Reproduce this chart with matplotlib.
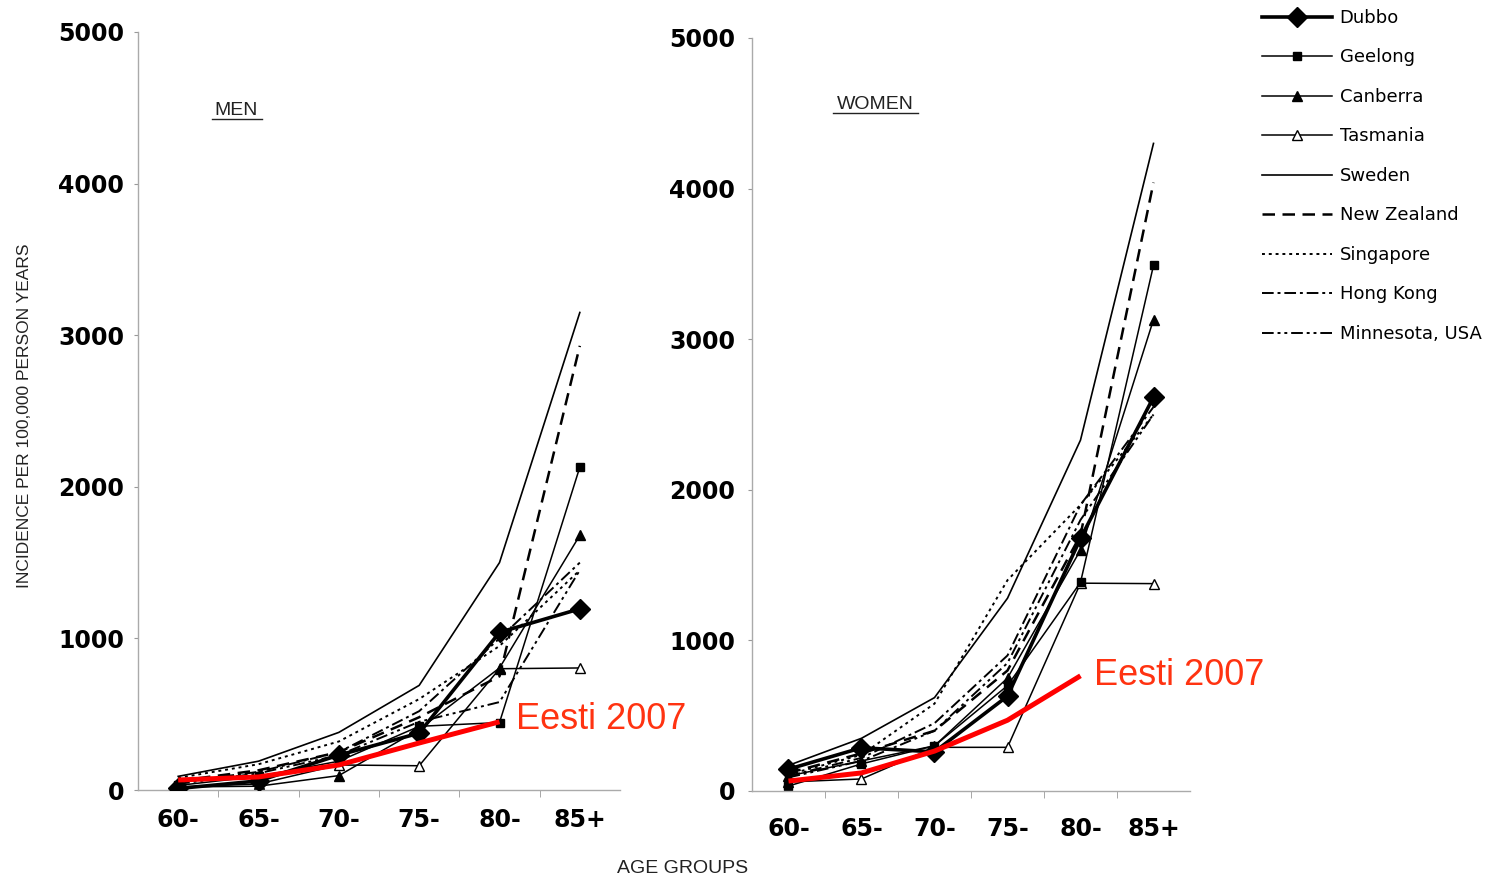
import matplotlib
matplotlib.use("Agg")
import matplotlib.pyplot as plt
from matplotlib.lines import Line2D

# ---------------- data ----------------
age_groups = ["60-", "65-", "70-", "75-", "80-", "85+"]

# MEN
dubbo_m     = [10, 60, 230, 375, 1040, 1195]
geelong_m   = [30, 90, 190, 420, 445, 2130]
canberra_m  = [20, 25, 95, 400, 805, 1680]
tasmania_m  = [20, 40, 165, 160, 800, 805]
sweden_m    = [90, 190, 380, 690, 1500, 3150]
nz_m        = [60, 130, 250, 480, 750, 2930]
singapore_m = [80, 170, 320, 600, 950, 1450]
hongkong_m  = [50, 120, 250, 520, 1000, 1500]
minnesota_m = [40, 110, 230, 450, 580, 1450]
eesti_m     = [66, 86, 165, 310, 450]

# WOMEN
dubbo_w     = [145, 287, 260, 630, 1677, 2615]
geelong_w   = [33, 180, 300, 700, 1385, 3490]
canberra_w  = [100, 200, 300, 750, 1600, 3130]
tasmania_w  = [60, 80, 290, 290, 1380, 1377]
sweden_w    = [170, 350, 620, 1280, 2330, 4300]
nz_w        = [120, 250, 400, 800, 1700, 4040]
singapore_w = [110, 240, 580, 1400, 1900, 2500]
hongkong_w  = [100, 220, 450, 900, 1900, 2550]
minnesota_w = [90, 200, 400, 850, 1800, 2500]
eesti_w     = [66, 120, 265, 470, 765]

eesti_label = "Eesti 2007"
yticks = [0, 1000, 2000, 3000, 4000, 5000]

series_names = ["Dubbo", "Geelong", "Canberra", "Tasmania", "Sweden",
                "New Zealand", "Singapore", "Hong Kong", "Minnesota, USA"]

styles = {
    "Dubbo":          dict(color="black", lw=2.6, ls="-", marker="D", ms=10),
    "Geelong":        dict(color="black", lw=1.1, ls="-", marker="s", ms=6),
    "Canberra":       dict(color="black", lw=1.1, ls="-", marker="^", ms=7),
    "Tasmania":       dict(color="black", lw=1.1, ls="-", marker="^", ms=7, mfc="white"),
    "Sweden":         dict(color="black", lw=1.2, ls="-"),
    "New Zealand":    dict(color="black", lw=1.8, ls=(0, (5, 3))),
    "Singapore":      dict(color="black", lw=1.4, ls=(0, (1.5, 2))),
    "Hong Kong":      dict(color="black", lw=1.4, ls=(0, (6, 2, 1.5, 2))),
    "Minnesota, USA": dict(color="black", lw=1.4, ls=(0, (6, 2, 1.5, 2, 1.5, 2))),
}

men = [dubbo_m, geelong_m, canberra_m, tasmania_m, sweden_m, nz_m,
       singapore_m, hongkong_m, minnesota_m]
women = [dubbo_w, geelong_w, canberra_w, tasmania_w, sweden_w, nz_w,
         singapore_w, hongkong_w, minnesota_w]

W, H = 1501, 880
fig = plt.figure(figsize=(W / 100, H / 100), dpi=100)

ax_m = fig.add_axes([138 / W, 1 - 790 / H, 482 / W, 758 / H])
ax_w = fig.add_axes([752 / W, 1 - 791 / H, 438 / W, 753 / H])

x = list(range(len(age_groups)))
red_text = "#ff3311"


def draw_panel(ax, data, eesti, title, title_xy, xpad, ypad, txt_off):
    order = [4, 5, 6, 7, 8, 3, 2, 1, 0]
    for i in order:
        name = series_names[i]
        st = dict(styles[name])
        ax.plot(x, data[i], color=st.pop("color"), lw=st.pop("lw"),
                ls=st.pop("ls"), marker=st.pop("marker", None),
                ms=st.pop("ms", 0), mfc=st.pop("mfc", "black"),
                mec="black", zorder=3 if name == "Dubbo" else 2)
    ax.plot(x[:len(eesti)], eesti, color="#ff0000", lw=3.6,
            solid_capstyle="butt", zorder=5)
    ax.annotate(eesti_label, xy=(x[len(eesti) - 1], eesti[-1]),
                xytext=txt_off, textcoords="offset points",
                ha="left", va="center", color=red_text, fontsize=26,
                family="Liberation Sans", zorder=6)
    ax.set_xlim(-0.5, len(age_groups) - 0.5)
    ax.set_ylim(0, 5000)
    ax.set_yticks(yticks)
    ax.set_yticklabels([str(v) for v in yticks], fontsize=17,
                       fontweight="bold")
    ax.set_xticks(x)
    ax.set_xticklabels(age_groups, fontsize=17, fontweight="bold")
    ax.set_xticks([i + 0.5 for i in x[:-1]], minor=True)
    ax.tick_params(axis="x", which="major", length=0, pad=xpad)
    ax.tick_params(axis="x", which="minor", length=5, color="#999999")
    ax.tick_params(axis="y", length=3, color="#999999", pad=ypad)
    for s in ["top", "right"]:
        ax.spines[s].set_visible(False)
    for s in ["left", "bottom"]:
        ax.spines[s].set_color("#aaaaaa")
        ax.spines[s].set_linewidth(1.0)
    ax.text(title_xy[0], title_xy[1], title, transform=ax.transAxes,
            ha="center", va="center", fontsize=14, family="Liberation Sans",
            color="#222222")


draw_panel(ax_m, men, eesti_m, "MEN", (0.203, 0.897), 13, 7, (12, 2))
draw_panel(ax_w, women, eesti_w, "WOMEN", (0.281, 0.912), 19, 9, (10, 0))

# underline titles
fig.add_artist(Line2D([212 / W, 262 / W], [1 - 119 / H, 1 - 119 / H],
                      color="#222222", lw=1.0))
fig.add_artist(Line2D([833 / W, 918 / W], [1 - 113 / H, 1 - 113 / H],
                      color="#222222", lw=1.0))

fig.text(25 / W, 1 - 416 / H, "INCIDENCE PER 100,000 PERSON YEARS",
         rotation=90, ha="center", va="center", fontsize=12.5,
         family="Liberation Sans", color="#222222")
fig.text(683 / W, 1 - 868 / H, "AGE GROUPS", ha="center", va="center",
         fontsize=14, family="Liberation Sans", color="#222222")

# legend
handles = []
for name in series_names:
    st = styles[name]
    handles.append(Line2D([], [], color=st["color"], lw=st["lw"], ls=st["ls"],
                          marker=st.get("marker"), ms=st.get("ms", 0),
                          mfc=st.get("mfc", "black"), mec="black"))
fig.legend(handles, series_names, loc="upper left",
           bbox_to_anchor=(1262 / W, 1 - 9 / H), frameon=False,
           handlelength=3.9, handletextpad=0.4,
           labelspacing=1.19, borderpad=0, borderaxespad=0, numpoints=1,
           prop={"family": "DejaVu Sans", "size": 13})

fig.savefig("out.png", dpi=100, facecolor="white")
